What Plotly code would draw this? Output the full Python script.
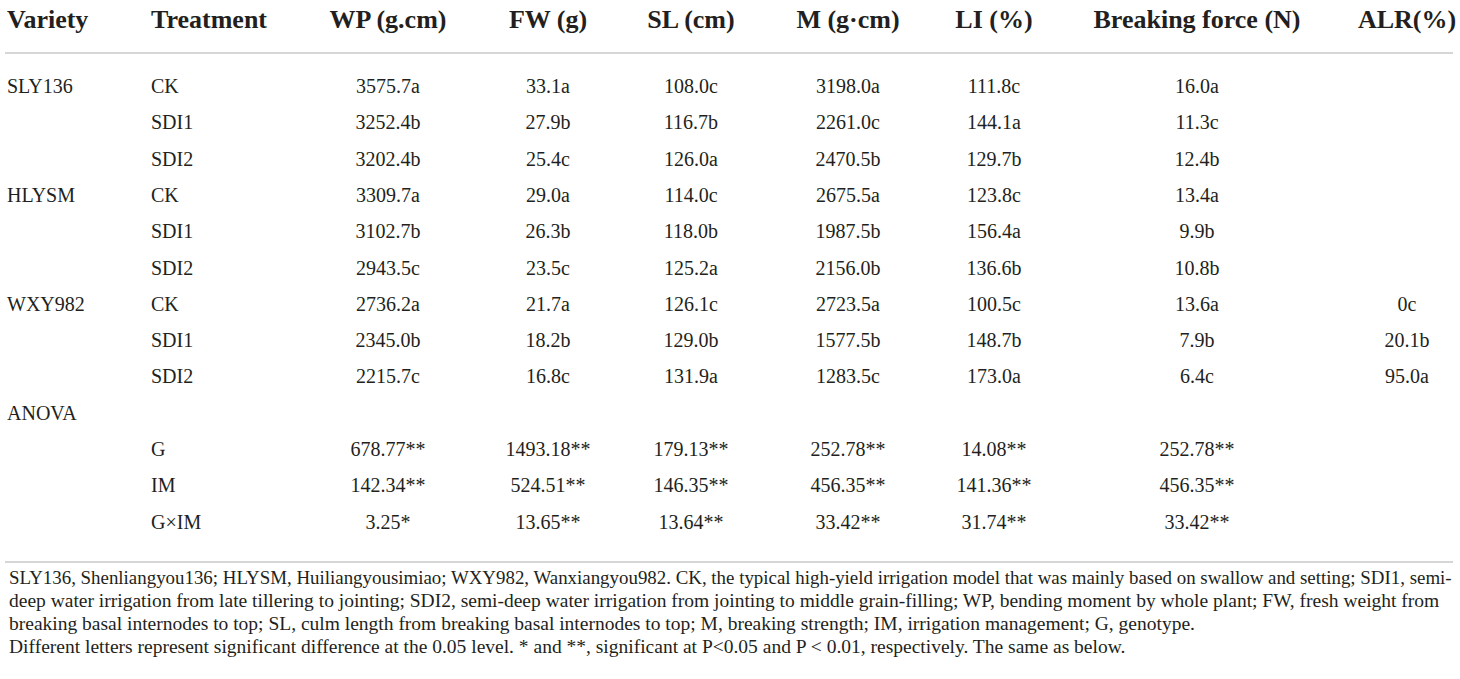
"""
Lodging resistance table: stem mechanics by variety and irrigation treatment.
Rendered as a text-only Plotly figure for a 1460x679 page.
"""

import plotly.graph_objects as go

# ── Table data ─────────────────────────────────────────
headers = ['Variety', 'Treatment', 'WP (g.cm)', 'FW (g)', 'SL (cm)',
           'M (g·cm)', 'LI (%)', 'Breaking force (N)', 'ALR(%)']

variety_col = ['SLY136', '', '', 'HLYSM', '', '', 'WXY982', '', '',
               'ANOVA', '', '', '']
treatment_col = ['CK', 'SDI1', 'SDI2', 'CK', 'SDI1', 'SDI2', 'CK', 'SDI1', 'SDI2',
                 '', 'G', 'IM', 'G×IM']

wp = ['3575.7a', '3252.4b', '3202.4b', '3309.7a', '3102.7b', '2943.5c',
      '2736.2a', '2345.0b', '2215.7c', '', '678.77**', '142.34**', '3.25*']
fw = ['33.1a', '27.9b', '25.4c', '29.0a', '26.3b', '23.5c',
      '21.7a', '18.2b', '16.8c', '', '1493.18**', '524.51**', '13.65**']
sl = ['108.0c', '116.7b', '126.0a', '114.0c', '118.0b', '125.2a',
      '126.1c', '129.0b', '131.9a', '', '179.13**', '146.35**', '13.64**']
m = ['3198.0a', '2261.0c', '2470.5b', '2675.5a', '1987.5b', '2156.0b',
     '2723.5a', '1577.5b', '1283.5c', '', '252.78**', '456.35**', '33.42**']
li = ['111.8c', '144.1a', '129.7b', '123.8c', '156.4a', '136.6b',
      '100.5c', '148.7b', '173.0a', '', '14.08**', '141.36**', '31.74**']
breaking_force = ['16.0a', '11.3c', '12.4b', '13.4a', '9.9b', '10.8b',
                  '13.6a', '7.9b', '6.4c', '', '252.78**', '456.35**', '33.42**']
alr = ['', '', '', '', '', '', '0c', '20.1b', '95.0a', '', '', '', '']

footnotes = [
    'SLY136, Shenliangyou136; HLYSM, Huiliangyousimiao; WXY982, Wanxiangyou982. CK, the typical '
    'high-yield irrigation model that was mainly based on swallow and setting; SDI1, semi-',
    'deep water irrigation from late tillering to jointing; SDI2, semi-deep water irrigation from '
    'jointing to middle grain-filling; WP, bending moment by whole plant; FW, fresh weight from',
    'breaking basal internodes to top; SL, culm length from breaking basal internodes to top; '
    'M, breaking strength; IM, irrigation management; G, genotype.',
    'Different letters represent significant difference at the 0.05 level. * and **, significant '
    'at P<0.05 and P < 0.01, respectively. The same as below.',
]

# ── Layout constants (page pixels) ─────────────────────
W, H = 1460, 679
FONT = 'Liberation Serif'
INK = '#231f20'
RULE = '#c9c9c9'
LEFT_X = [7, 151]
CENTER_X = [388, 548, 691, 848, 994, 1197, 1407]
HEADER_Y = 21
ROW_Y0, ROW_DY = 88, 36.3
ROW_Y = [ROW_Y0 + ROW_DY * i for i in range(len(treatment_col))]
NOTE_Y0, NOTE_DY = 577, 23.3
NOTE_SIZES = [18.9, 19.5, 19.5, 19.5]

fig = go.Figure()

# ── Header ─────────────────────────────────────────────
header_font = dict(size=26, color=INK, family=FONT, weight='bold')
header_x = LEFT_X + CENTER_X
fig.add_trace(go.Scatter(
    x=header_x[:2], y=[HEADER_Y] * 2, text=headers[:2], mode='text',
    textposition='middle right', textfont=header_font, cliponaxis=False,
    showlegend=False, hoverinfo='skip',
))
fig.add_trace(go.Scatter(
    x=header_x[2:], y=[HEADER_Y] * 7, text=headers[2:], mode='text',
    textposition='middle center', textfont=header_font, cliponaxis=False,
    showlegend=False, hoverinfo='skip',
))

# ── Body: left-aligned label columns ───────────────────
for x, col in zip(LEFT_X, [variety_col, treatment_col]):
    fig.add_trace(go.Scatter(
        x=[x] * len(col), y=ROW_Y, text=col, mode='text',
        textposition='middle right', textfont=dict(size=20, color=INK, family=FONT),
        cliponaxis=False, showlegend=False, hoverinfo='skip',
    ))

# ── Body: centred value columns ────────────────────────
for x, col in zip(CENTER_X, [wp, fw, sl, m, li, breaking_force, alr]):
    fig.add_trace(go.Scatter(
        x=[x] * len(col), y=ROW_Y, text=col, mode='text',
        textposition='middle center', textfont=dict(size=20, color=INK, family=FONT),
        cliponaxis=False, showlegend=False, hoverinfo='skip',
    ))

# ── Rules ──────────────────────────────────────────────
for y in [53, 562]:
    fig.add_shape(type='line', x0=5, x1=1453, y0=y, y1=y, xref='x', yref='y',
                  line=dict(color=RULE, width=1.5))

# ── Footnotes ──────────────────────────────────────────
for i, (line, size) in enumerate(zip(footnotes, NOTE_SIZES)):
    fig.add_annotation(
        x=7, y=NOTE_Y0 + NOTE_DY * i, xref='x', yref='y', text=line,
        showarrow=False, xanchor='left', yanchor='middle',
        font=dict(size=size, color=INK, family=FONT),
    )

# axis ranges map data units straight onto page pixels
fig.update_layout(
    width=W, height=H,
    margin=dict(l=0, r=0, t=0, b=0),
    paper_bgcolor='white', plot_bgcolor='white',
    font=dict(family=FONT, color=INK),
    xaxis=dict(range=[0, W], visible=False, fixedrange=True),
    yaxis=dict(range=[H, 0], visible=False, fixedrange=True),
)

# drop the browser's default body margin so the figure fills the window exactly
fig.write_html('out.html', config={'displayModeBar': False},
               post_script="document.body.style.margin = '0px';")
